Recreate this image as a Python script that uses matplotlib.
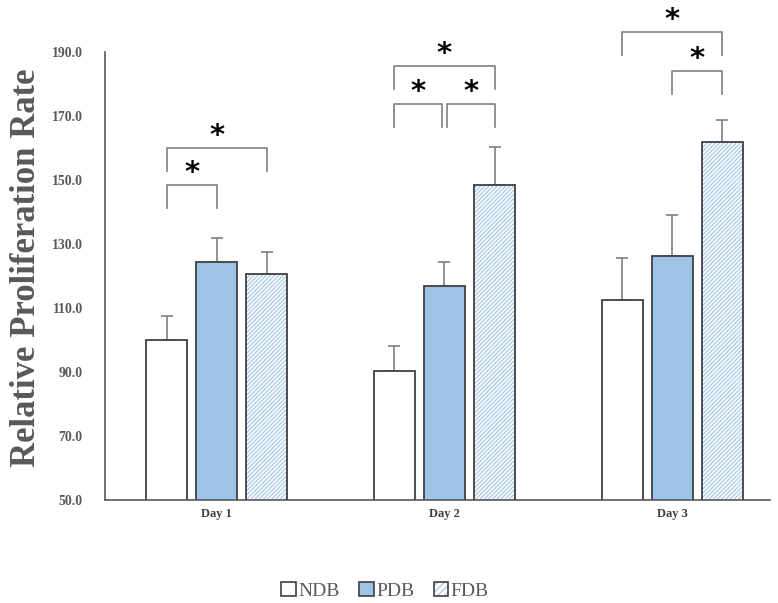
from matplotlib import pyplot as plt
from matplotlib.patches import Patch
from matplotlib.legend_handler import HandlerTuple
import numpy as np

days = ["Day 1", "Day 2", "Day 3"]
groups = ["NDB", "PDB", "FDB"]
ndb = [100.0, 90.2, 112.5]
pdb = [124.4, 116.9, 126.3]
fdb = [120.6, 148.4, 161.9]
ndb_err = [7.5, 7.8, 13.0]
pdb_err = [7.5, 7.5, 12.8]
fdb_err = [7.0, 11.9, 6.9]

# significance brackets: (day, bar a, bar b, height)
brackets = [
    (0, 0, 1, 148.4), (0, 0, 2, 160.0),
    (1, 0, 2, 185.6), (1, 0, 1, 173.8), (1, 1, 2, 173.8),
    (2, 0, 2, 196.3), (2, 1, 2, 184.0),
]

gray = "#595959"
edge = "#404040"
blue = "#9dc3e6"
serif = "Liberation Serif"

fig = plt.figure(figsize=(7.78, 6.03), dpi=100)
ax = fig.add_axes([0.135, 0.171, 0.855, 0.743])

x = np.arange(len(days))
step = 0.22
width = 0.18
offsets = [-step, 0, step]
errkw = dict(ecolor="#7f7f7f", elinewidth=1.2, capsize=4.5, capthick=1.2)

ax.bar(x - step, ndb, width, color="white", edgecolor=edge, linewidth=1.3, zorder=2)
ax.errorbar(x - step, ndb, yerr=[np.zeros(3), ndb_err], fmt="none", zorder=1, **errkw)
ax.bar(x, pdb, width, color=blue, edgecolor=edge, linewidth=1.3, zorder=2)
ax.errorbar(x, pdb, yerr=[np.zeros(3), pdb_err], fmt="none", zorder=1, **errkw)
plt.rcParams["hatch.linewidth"] = 0.8
ax.bar(x + step, fdb, width, color="white", edgecolor=blue, hatch="////////", linewidth=0, zorder=2)
ax.bar(x + step, fdb, width, fill=False, edgecolor=edge, linewidth=1.3, zorder=3)
ax.errorbar(x + step, fdb, yerr=[np.zeros(3), fdb_err], fmt="none", zorder=1, **errkw)

leg = 7.2
for day, a, b, h in brackets:
    xa = day + offsets[a]
    xb = day + offsets[b]
    if day == 1 and b - a == 1:
        # the two inner brackets of Day 2 sit side by side around PDB
        if a == 0:
            xb -= 0.009
        else:
            xa += 0.009
    ax.plot([xa, xa, xb, xb], [h - leg, h, h, h - leg], color="#7f7f7f", lw=1.2, clip_on=False)
    ax.text((xa + xb) / 2, h + 3.8, "*", ha="center", va="center", fontsize=21,
            fontfamily="DejaVu Sans", fontweight="bold", color="black", clip_on=False)

ax.set_ylim(50, 190)
ax.set_xlim(-0.49, 2.43)
ax.set_yticks(np.arange(50, 191, 20))
ax.set_yticklabels([f"{v:.1f}" for v in np.arange(50, 191, 20)], fontfamily=serif,
                   fontweight="bold", fontsize=10, color=gray)
ax.set_xticks(x)
ax.set_xticklabels(days, fontfamily=serif, fontweight="bold", fontsize=9, color=edge)
ax.tick_params(length=0)
ax.tick_params(axis="y", pad=16)
ax.tick_params(axis="x", pad=6)
for s in ["top", "right"]:
    ax.spines[s].set_visible(False)
for s in ["left", "bottom"]:
    ax.spines[s].set_color(gray)
    ax.spines[s].set_linewidth(1.2)
ax.set_ylabel("Relative Proliferation Rate", fontfamily=serif, fontweight="bold",
              fontsize=25, color=gray)
ax.yaxis.set_label_coords(-0.093, 0.518)

handles = [
    Patch(facecolor="white", edgecolor=edge, linewidth=1.2),
    Patch(facecolor=blue, edgecolor=edge, linewidth=1.2),
    (Patch(facecolor="white", edgecolor=blue, hatch="/////", linewidth=0),
     Patch(fill=False, edgecolor=edge, linewidth=1.2)),
]
fig.legend(handles, groups, loc="center", bbox_to_anchor=(0.495, 0.02), ncol=3,
           frameon=False, handlelength=0.75, handleheight=0.75, handletextpad=0.12,
           columnspacing=1.0, prop={"family": serif, "size": 14},
           labelcolor=gray, handler_map={tuple: HandlerTuple(ndivide=1)})

fig.savefig("out.png", dpi=100)
